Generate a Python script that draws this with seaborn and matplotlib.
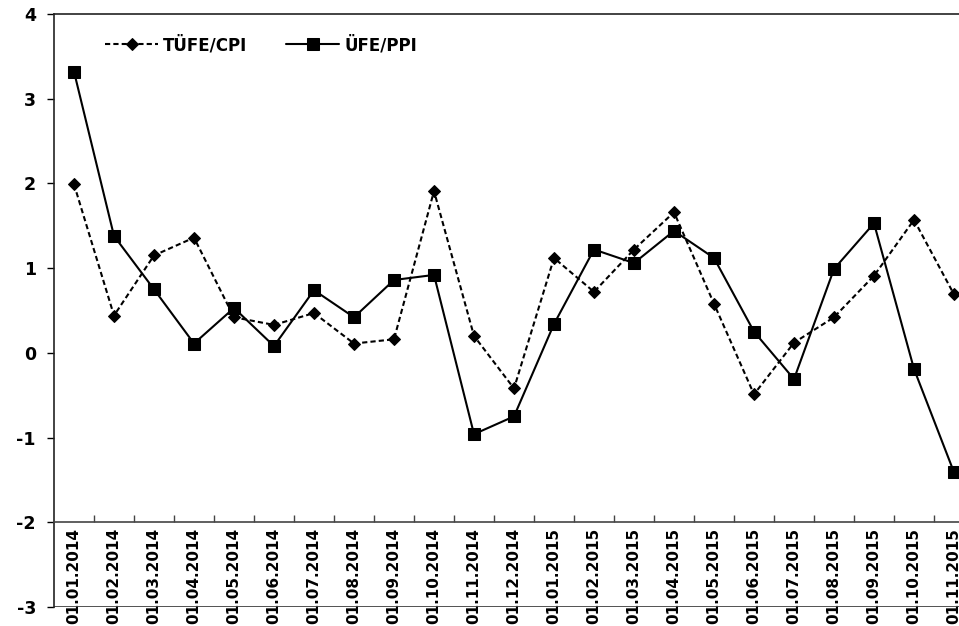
import numpy as np
import pandas as pd
import seaborn as sns
import matplotlib.pyplot as plt
from matplotlib.ticker import FixedLocator

sns.set_theme(style="ticks")
plt.rcParams['font.family'] = ['DejaVu Sans']
plt.rcParams['axes.unicode_minus'] = False
plt.rcParams['text.color'] = 'black'
plt.rcParams['xtick.color'] = 'black'
plt.rcParams['ytick.color'] = 'black'

dates = ["01.01.2014", "01.02.2014", "01.03.2014", "01.04.2014", "01.05.2014",
         "01.06.2014", "01.07.2014", "01.08.2014", "01.09.2014", "01.10.2014",
         "01.11.2014", "01.12.2014", "01.01.2015", "01.02.2015", "01.03.2015",
         "01.04.2015", "01.05.2015", "01.06.2015", "01.07.2015", "01.08.2015",
         "01.09.2015", "01.10.2015", "01.11.2015"]
cpi = [1.99, 0.44, 1.15, 1.36, 0.42, 0.33, 0.47, 0.11, 0.16, 1.91, 0.20, -0.42,
       1.12, 0.72, 1.22, 1.66, 0.58, -0.49, 0.12, 0.42, 0.91, 1.57, 0.69]
ppi = [3.32, 1.38, 0.75, 0.11, 0.53, 0.08, 0.74, 0.42, 0.86, 0.92, -0.96, -0.75,
       0.34, 1.22, 1.06, 1.44, 1.12, 0.25, -0.31, 0.99, 1.53, -0.19, -1.41]
label_cpi = "TÜFE/CPI"
label_ppi = "ÜFE/PPI"

df = pd.DataFrame({"pos": np.arange(len(dates)), "date": dates, "cpi": cpi, "ppi": ppi})

fig = plt.figure(figsize=(9.59, 6.26), dpi=100)
ax = fig.add_axes([54 / 959, 1 - 607 / 626, 920 / 959, 593 / 626])

sns.lineplot(data=df, x="pos", y="cpi", ax=ax, color="black", lw=1.5,
             linestyle=(0, (2.5, 1.5)), marker="D", markersize=6,
             markeredgecolor="black", label=label_cpi, sort=False)
sns.lineplot(data=df, x="pos", y="ppi", ax=ax, color="black", lw=1.5,
             marker="s", markersize=8.5, markeredgecolor="black",
             label=label_ppi, sort=False)

ax.set_xlim(-0.5, len(dates) - 0.5)
ax.set_ylim(-3, 4)
ax.set_xlabel("")
ax.set_ylabel("")

# y axis
ax.set_yticks(range(-3, 5))
ax.tick_params(axis="y", direction="out", length=5, width=1, pad=8, colors="black",
               labelsize=12.5)
for t in ax.get_yticklabels():
    t.set_fontweight("bold")

# category axis crossing at -2
ax.spines["bottom"].set_position(("data", -2))
ax.set_xticks(df["pos"])
ax.set_xticklabels(dates, rotation=90, fontsize=11, fontweight="bold", va="top")
ax.xaxis.set_minor_locator(FixedLocator(df["pos"][:-1] + 0.5))
ax.tick_params(axis="x", which="major", length=0, pad=4, labelcolor="black")
ax.tick_params(axis="x", which="minor", direction="in", length=5, width=1, color="#444444")
ax.axhline(-3, color="#444444", lw=1.3, zorder=1)

for side in ["left", "top", "bottom"]:
    ax.spines[side].set_color("#222222")
    ax.spines[side].set_linewidth(1.2)
ax.spines["bottom"].set_color("#444444")
ax.spines["right"].set_visible(False)

leg = ax.legend(loc="center left", bbox_to_anchor=(105 / 959, 1 - 45 / 626),
                bbox_transform=fig.transFigure, ncol=2, frameon=False,
                borderpad=0, borderaxespad=0, handlelength=3.2, handletextpad=0.3,
                columnspacing=2.3, prop={"weight": "bold", "size": 12},
                labelcolor="black")

fig.savefig("out.png", dpi=100)
